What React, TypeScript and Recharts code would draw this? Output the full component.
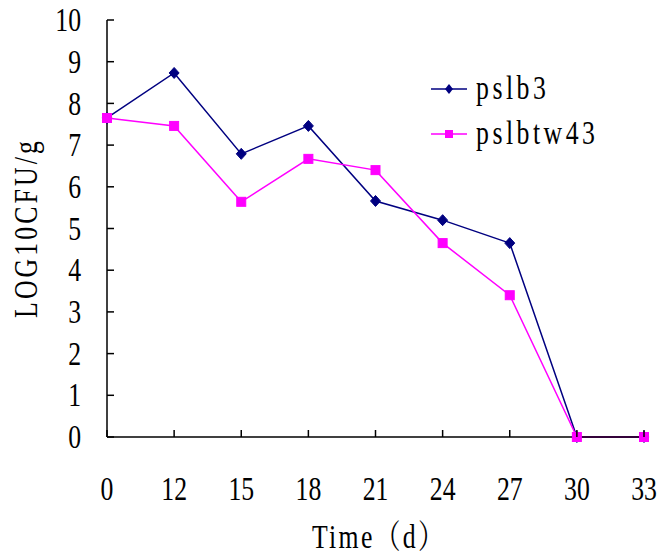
import React from "react";
import { LineChart, Line, XAxis, YAxis, Legend } from "recharts";

const days = ["0", "12", "15", "18", "21", "24", "27", "30", "33"];
const pslb3 = [7.65, 8.73, 6.79, 7.46, 5.66, 5.2, 4.65, 0, 0];
const pslbtw43 = [7.65, 7.46, 5.64, 6.67, 6.4, 4.65, 3.4, 0, 0];
const yTicks = [0, 1, 2, 3, 4, 5, 6, 7, 8, 9, 10];

const data = days.map((d, i) => ({ day: d, pslb3: pslb3[i], pslbtw43: pslbtw43[i] }));

const FONT = "'Liberation Serif', 'Noto Serif CJK SC', 'Noto Sans CJK SC', serif";
const FS = 33;
const SX = 0.78;

// ticks drawn by hand so the tick marks point inside the plot
const YTick = (props: any) => {
  const { x, y, payload } = props;
  return (
    <g transform={`translate(${x},${y})`}>
      <line x1={0} y1={0} x2={7} y2={0} stroke="#000" strokeWidth={1.5} />
      <g transform={`scale(${SX},1)`}>
        <text x={-26 / SX} y={0} textAnchor="end" dominantBaseline="central" fontFamily={FONT} fontSize={FS} fill="#000">
          {payload.value}
        </text>
      </g>
    </g>
  );
};

const XTick = (props: any) => {
  const { x, y, payload } = props;
  return (
    <g transform={`translate(${x},${y})`}>
      <line x1={0} y1={0} x2={0} y2={-7} stroke="#000" strokeWidth={1.5} />
      <g transform={`scale(${SX},1)`}>
        <text x={0} y={52} textAnchor="middle" dominantBaseline="central" fontFamily={FONT} fontSize={FS} fill="#000">
          {payload.value}
        </text>
      </g>
    </g>
  );
};

const Diamond = (props: any) => {
  const { cx, cy } = props;
  if (cx == null || cy == null) return null;
  return <polygon points={`${cx},${cy - 5.5} ${cx + 5},${cy} ${cx},${cy + 5.5} ${cx - 5},${cy}`} fill="#000080" stroke="#000080" />;
};

const Square = (props: any) => {
  const { cx, cy } = props;
  if (cx == null || cy == null) return null;
  return <rect x={cx - 4.5} y={cy - 4.5} width={9} height={9} fill="#FF00FF" stroke="#FF00FF" />;
};

const renderLegend = () => {
  const rows = [
    { name: "pslb3", color: "#000080", square: false },
    { name: "pslbtw43", color: "#FF00FF", square: true },
  ];
  return (
    <div>
      {rows.map((r) => (
        <div key={r.name} style={{ display: "flex", alignItems: "center", height: 45 }}>
          <svg width={40} height={14}>
            <line x1={0} y1={7} x2={36} y2={7} stroke={r.color} strokeWidth={1.5} />
            {r.square ? (
              <rect x={14} y={3} width={8} height={8} fill={r.color} />
            ) : (
              <polygon points="18,2 22,7 18,12 14,7" fill={r.color} />
            )}
          </svg>
          <span
            style={{
              display: "inline-block",
              fontFamily: FONT,
              fontSize: FS,
              color: "#000",
              transform: `scaleX(${SX})`,
              transformOrigin: "left center",
              whiteSpace: "nowrap",
              lineHeight: 1,
              letterSpacing: 4.5,
              marginLeft: 5,
            }}
          >
            {r.name}
          </span>
        </div>
      ))}
    </div>
  );
};

export default function App() {
  return (
    <div style={{ position: "absolute", left: 0, top: 0, background: "#fff" }}>
      <LineChart width={660} height={556} data={data} margin={{ top: 20, right: 16, bottom: 59, left: 47 }}>
        <XAxis
          dataKey="day"
          height={60}
          tickLine={false}
          tickSize={0}
          tickMargin={0}
          tick={<XTick />}
          interval={0}
          stroke="#000"
          strokeWidth={1.5}
          label={{
            content: () => (
              <g transform={`translate(379,537) scale(${SX},1)`}>
                <text x={0} y={0} textAnchor="middle" dominantBaseline="central" fontFamily={FONT} fontSize={FS} fill="#000" letterSpacing={3}>
                  Time（d）
                </text>
              </g>
            ),
          }}
        />
        <YAxis
          width={60}
          domain={[0, 10]}
          ticks={yTicks}
          interval={0}
          tickLine={false}
          tickSize={0}
          tickMargin={0}
          tick={<YTick />}
          stroke="#000"
          strokeWidth={1.5}
          label={{
            content: () => (
              <g transform={`translate(26,228) rotate(-90) scale(${SX},1)`}>
                <text x={0} y={0} textAnchor="middle" dominantBaseline="central" fontFamily={FONT} fontSize={FS} fill="#000" letterSpacing={4}>
                  LOG10CFU/g
                </text>
              </g>
            ),
          }}
        />
        <Legend
          layout="vertical"
          verticalAlign="middle"
          align="center"
          content={renderLegend}
          wrapperStyle={{ left: 431, top: 66, width: 220 }}
        />
        <Line
          dataKey="pslb3"
          stroke="#000080"
          strokeWidth={1.5}
          dot={<Diamond />}
          activeDot={false}
          isAnimationActive={false}
        />
        <Line
          dataKey="pslbtw43"
          stroke="#FF00FF"
          strokeWidth={1.5}
          dot={<Square />}
          activeDot={false}
          isAnimationActive={false}
        />
      </LineChart>
    </div>
  );
}
